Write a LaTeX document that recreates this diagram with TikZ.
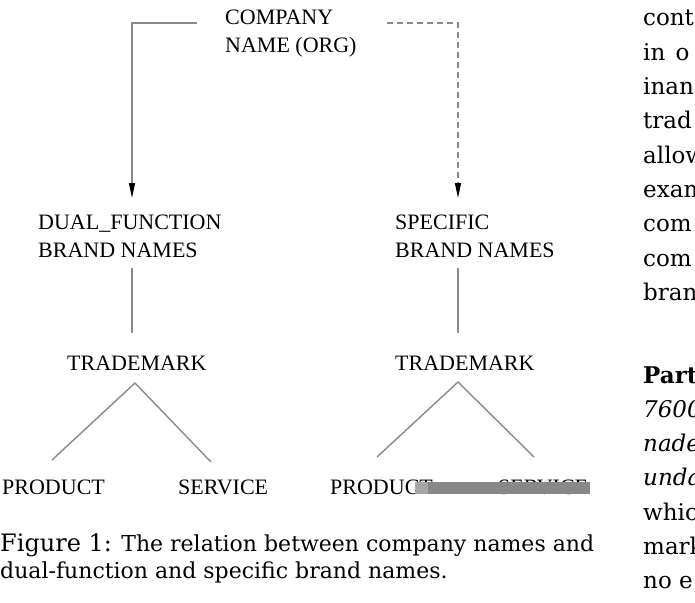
\documentclass[tikz,border=0pt]{standalone}
\usepackage{fontspec}
\setmainfont{Liberation Serif}
\newfontfamily\capfont{DejaVu Serif}
\usetikzlibrary{arrows.meta,calc}
\definecolor{linegray}{HTML}{8A8A8A}
\definecolor{bargray}{HTML}{888888}
\begin{document}
\begin{tikzpicture}[x=1pt,y=-1pt,
  lbl/.style={anchor=north west, inner sep=0pt, align=left, font=\fontsize{22}{27.5}\selectfont},
  conn/.style={draw=linegray, line width=1.4pt},
  arr/.style={-{Triangle[length=15pt,width=6pt,black]}},
  captxt/.style={anchor=base west, inner sep=0pt, font=\capfont\fontsize{22}{27}\selectfont},
  coltxt/.style={anchor=base west, inner sep=0pt, font=\capfont\fontsize{23}{34}\selectfont}]
\useasboundingbox (0,0) rectangle (695,602);
\fill[white] (0,0) rectangle (695,602);

% diagram labels
\node[lbl] (company) at (225,10) {COMPANY\\NAME (ORG)};
\node[lbl] (dual) at (38,215) {DUAL\_FUNCTION\\BRAND NAMES};
\node[lbl] (spec) at (395,215) {SPECIFIC\\BRAND NAMES};
\node[lbl] (tm1) at (67,356) {TRADEMARK};
\node[lbl] (tm2) at (395,356) {TRADEMARK};
\node[lbl] (prod1) at (2,480) {PRODUCT};
\node[lbl] (serv1) at (178,480) {SERVICE};
\node[lbl] (prod2) at (330,480) {PRODUCT};
\node[lbl] (serv2) at (498,480) {SERVICE};

% connectors
\draw[conn, arr, shorten >=17pt] ($(company.north west)+(-28,13)$) -| ($(dual.north west)+(94,0)$);
\draw[conn, arr, dash pattern=on 6pt off 4pt, shorten >=17pt] ($(company.north east)+(30,13)$) -| ($(spec.north west)+(63,0)$);
\draw[conn] ($(dual.north west)+(94,53)$) -- ($(tm1.north west)+(65,-23)$);
\draw[conn] ($(spec.north west)+(63,53)$) -- ($(tm2.north west)+(63,-23)$);
\draw[conn] ($(prod1.north west)+(50,-20)$) -- ($(tm1.north west)+(68,27)$) -- ($(serv1.north west)+(33,-18)$);
\draw[conn] ($(prod2.north west)+(47,-23)$) -- ($(tm2.north west)+(63,26)$) -- ($(serv2.north west)+(36,-23)$);

% grey bar over the right leaves
\fill[black!35] (415,482) rectangle (428,494);
\fill[bargray] (428,482) rectangle (590,494);

% caption
\node[captxt] (cap1) at (0,551) {{\fontsize{24}{24}\selectfont Figure 1:} The relation between company names and};
\node[captxt] (cap2) at (0,578) {dual-function and specific brand names.};

% right column (cut off)
\foreach \t [count=\i from 0] in {cont,{in\hspace{0.45em}o},inan,trad,allow,exam,com,com,bran}
  \node[coltxt, name=ca\i] at (643,26+34.3*\i) {\t};
\foreach \t [count=\i from 0] in {{\bfseries Part},{\itshape 7600},{\itshape nade},{\itshape unda},whic,mark,{no e}}
  \node[coltxt, name=cb\i] at (643,383+34.3*\i) {\t};
\end{tikzpicture}
\end{document}
